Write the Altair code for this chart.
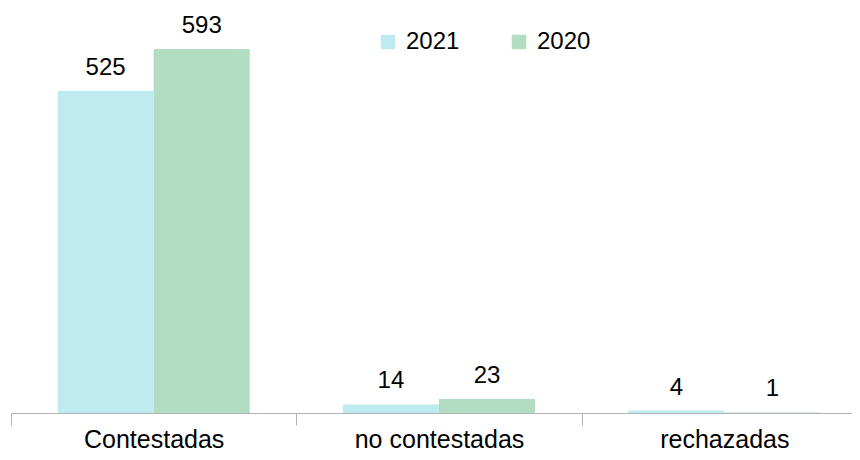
import altair as alt
import pandas as pd

categories = ["Contestadas", "no contestadas", "rechazadas"]
years = ["2021", "2020"]
v2021 = [525, 14, 4]
v2020 = [593, 23, 1]
colors = ["#BDEBF0", "#B2DDC2"]

rows = []
for c, a, b in zip(categories, v2021, v2020):
    rows.append({"cat": c, "year": "2021", "value": a})
    rows.append({"cat": c, "year": "2020", "value": b})
df = pd.DataFrame(rows)

FONT = "Liberation Sans"

x = alt.X("cat:N", sort=categories, title=None,
          scale=alt.Scale(paddingInner=0, paddingOuter=0, range=[0, 856]),
          axis=alt.Axis(labelAngle=0, tickBand="extent", tickSize=12, labelPadding=2,
                        labelFontSize=25, labelFont=FONT, labelColor="#000000",
                        domainColor="#b3b3b3", tickColor="#b3b3b3", labelLimit=400))
xo = alt.XOffset("year:N", sort=years, scale=alt.Scale(paddingInner=0, paddingOuter=0.485))
y = alt.Y("value:Q", scale=alt.Scale(domain=[0, 660], nice=False), axis=None)

bars = alt.Chart(df).mark_bar(clip=False).encode(
    x=x, xOffset=xo, y=y,
    color=alt.Color("year:N", sort=years,
                    scale=alt.Scale(domain=years, range=colors),
                    legend=alt.Legend(title=None, orient="none", legendX=365, legendY=22,
                                      direction="horizontal", symbolType="square",
                                      symbolSize=210, symbolStrokeWidth=0,
                                      labelFontSize=24, labelFont=FONT, labelColor="#000000",
                                      labelOffset=6, columnPadding=47)),
)

labels = alt.Chart(df).mark_text(baseline="bottom", dy=-11, fontSize=24, font=FONT,
                                 color="#000000", clip=False).encode(
    x=x, xOffset=xo, y=y, text="value:Q"
)

chart = alt.layer(bars, labels).properties(
    width=841, height=405,
    padding={"left": 3, "top": 0, "right": 0, "bottom": 39},
    autosize=alt.AutoSizeParams(type="none"),
).configure_view(stroke=None)

chart.save("out.html", embed_options={"renderer": "svg", "actions": False})
